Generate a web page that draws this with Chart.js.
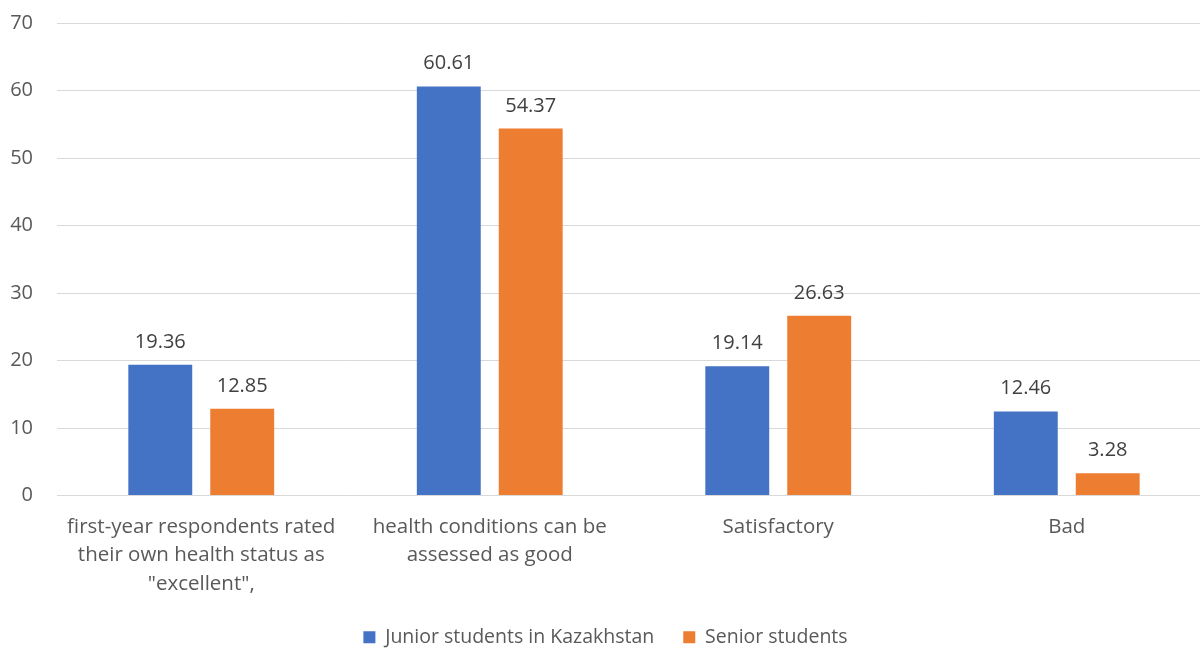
<!DOCTYPE html>
<html>
<head>
<meta charset="utf-8">
<script src="https://cdn.jsdelivr.net/npm/chart.js@4/dist/chart.umd.min.js"></script>
<style>
  html, body { margin: 0; padding: 0; background: #fff; }
  /* the original is cropped: the plot runs ~11px past the right edge */
  #frame { width: 1200px; height: 648px; overflow: hidden; }
  #wrap { width: 1211px; height: 648px; position: relative; }
</style>
</head>
<body>
<div id="frame"><div id="wrap"><canvas id="healthChart"></canvas></div></div>
<script>
// ---- chart data ----
const categories = [
    ['first-year respondents rated', 'their own health status as', '"excellent",'],
    ['health conditions can be', 'assessed as good'],
    'Satisfactory',
    'Bad'
];
const juniorValues = [19.36, 60.61, 19.14, 12.46];
const seniorValues = [12.85, 54.37, 26.63, 3.28];
const seriesNames = ['Junior students in Kazakhstan', 'Senior students'];
const yTicks = [0, 10, 20, 30, 40, 50, 60, 70];

const TEXT_COLOR = '#595959';
const FONT = '"Open Sans", Lato, sans-serif';

// draws the value above each bar
const valueLabels = {
    id: 'valueLabels',
    afterDatasetsDraw(chart) {
        const ctx = chart.ctx;
        ctx.save();
        ctx.font = '20px ' + FONT;
        ctx.fillStyle = '#404040';
        ctx.textAlign = 'center';
        ctx.textBaseline = 'alphabetic';
        chart.data.datasets.forEach((ds, i) => {
            chart.getDatasetMeta(i).data.forEach((bar, j) => {
                ctx.fillText(ds.data[j].toFixed(2), bar.x, bar.y - 17);
            });
        });
        ctx.restore();
    }
};

new Chart(document.getElementById('healthChart'), {
    type: 'bar',
    data: {
        labels: categories,
        datasets: [{
            label: seriesNames[0],
            data: juniorValues,
            backgroundColor: '#4472C4',
            barPercentage: 0.78,
            categoryPercentage: 0.568
        }, {
            label: seriesNames[1],
            data: seniorValues,
            backgroundColor: '#ED7D31',
            barPercentage: 0.78,
            categoryPercentage: 0.568
        }]
    },
    options: {
        responsive: true,
        maintainAspectRatio: false,
        animation: false,
        layout: {
            padding: { top: 23, left: 0, right: 0, bottom: -9 }
        },
        plugins: {
            legend: {
                position: 'bottom',
                labels: {
                    color: TEXT_COLOR,
                    font: { family: FONT, size: 19.5 },
                    boxWidth: 12,
                    boxHeight: 12,
                    padding: 29
                }
            },
            tooltip: { enabled: false }
        },
        scales: {
            x: {
                grid: { display: false },
                border: { display: false },
                ticks: {
                    color: TEXT_COLOR,
                    font: { family: FONT, size: 20.5, lineHeight: 1.4 },
                    maxRotation: 0,
                    autoSkip: false,
                    padding: 9
                },
                afterFit: axis => { axis.height = 103; }
            },
            y: {
                min: 0,
                max: 70,
                afterBuildTicks: axis => {
                    axis.ticks = yTicks.map(v => ({ value: v }));
                },
                afterFit: axis => { axis.width = 57; },
                grid: {
                    color: '#D9D9D9',
                    lineWidth: 1,
                    drawTicks: true,
                    tickLength: 24,
                    tickColor: 'rgba(0,0,0,0)'
                },
                border: { display: false },
                ticks: {
                    color: TEXT_COLOR,
                    font: { family: FONT, size: 20 },
                    padding: 0
                }
            }
        }
    },
    plugins: [valueLabels]
});
</script>
</body>
</html>
